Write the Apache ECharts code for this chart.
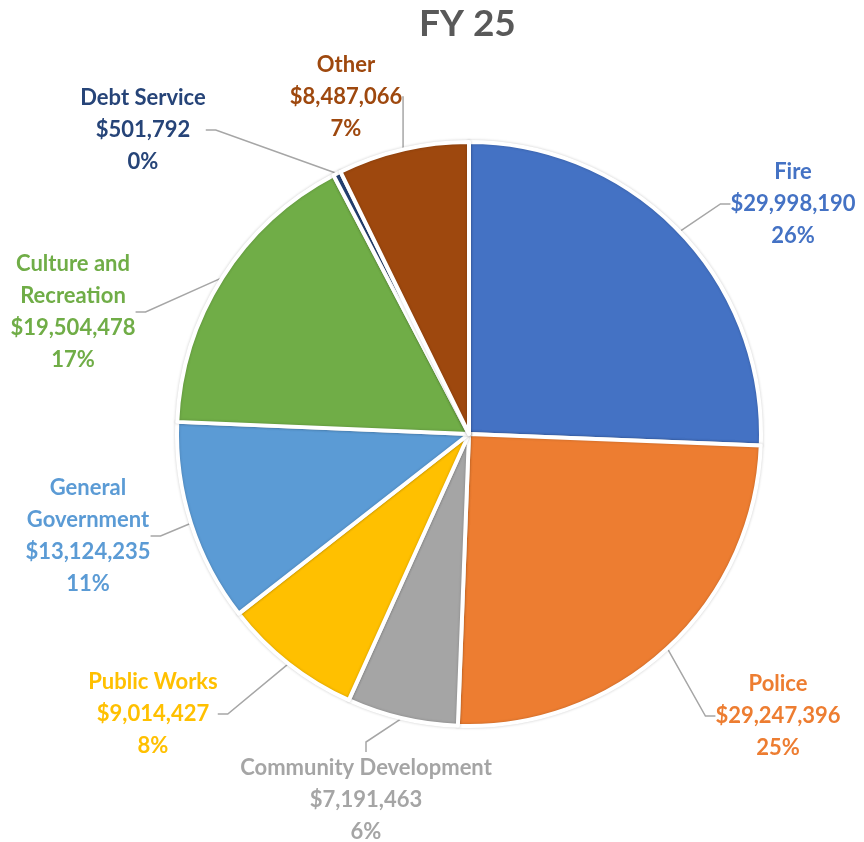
<!DOCTYPE html>
<html>
<head>
<meta charset="utf-8">
<title>FY 25</title>
<script src="https://cdn.jsdelivr.net/npm/echarts@6/dist/echarts.min.js"></script>
<style>
    html, body { margin: 0; padding: 0; background: #fff; }
    #pieChart { width: 864px; height: 842px; }
</style>
</head>
<body>
<div id="pieChart"></div>
<script>
// 数据
var categories = ['Fire', 'Police', 'Community Development', 'Public Works', 'General\nGovernment', 'Culture and\nRecreation', 'Debt Service', 'Other'];
var amounts = [29998190, 29247396, 7191463, 9014427, 13124235, 19504478, 501792, 8487066];
var colors = ['#4472C4', '#ED7D31', '#A5A5A5', '#FFC000', '#5B9BD5', '#70AD47', '#264478', '#9E480E'];
// 标签位置 (中心点)
var labelPos = [[793, 204], [778, 716], [366, 800], [153, 714], [88, 536], [73, 312], [143, 130], [346, 97]];

var myChart = echarts.init(document.getElementById('pieChart'));

function money(val) {
    return '$' + val.toLocaleString('en-US');
}

var pieData = [];
for (var i = 0; i < categories.length; i++) {
    pieData.push({
        name: categories[i],
        value: amounts[i],
        itemStyle: { color: colors[i] },
        label: { color: colors[i] }
    });
}

myChart.setOption({
    animation: false,
    title: {
        text: 'FY 25',
        left: 414,
        top: 1,
        textStyle: {
            fontFamily: 'Lato',
            fontSize: 37,
            fontWeight: 'bold',
            color: '#595959'
        }
    },
    series: [
        {
            type: 'pie',
            center: [469, 434],
            radius: 292,
            startAngle: 90,
            clockwise: true,
            avoidLabelOverlap: false,
            percentPrecision: 0,
            emphasis: { disabled: true },
            itemStyle: {
                borderColor: '#fff',
                borderWidth: 4,
                shadowBlur: 3,
                shadowColor: 'rgba(0,0,0,0.2)'
            },
            label: {
                show: true,
                fontFamily: 'Lato',
                fontSize: 22,
                fontWeight: 'bold',
                lineHeight: 32,
                align: 'center',
                formatter: function (p) {
                    return p.name + '\n' + money(p.value) + '\n' + p.percent + '%';
                }
            },
            labelLine: {
                show: true,
                length: 20,
                length2: 10,
                lineStyle: { color: '#A6A6A6', width: 1.5 }
            },
            labelLayout: function (params) {
                var pos = labelPos[params.dataIndex];
                return {
                    x: pos[0],
                    y: pos[1],
                    align: 'center',
                    verticalAlign: 'middle'
                };
            },
            data: pieData
        }
    ]
});
</script>
</body>
</html>
